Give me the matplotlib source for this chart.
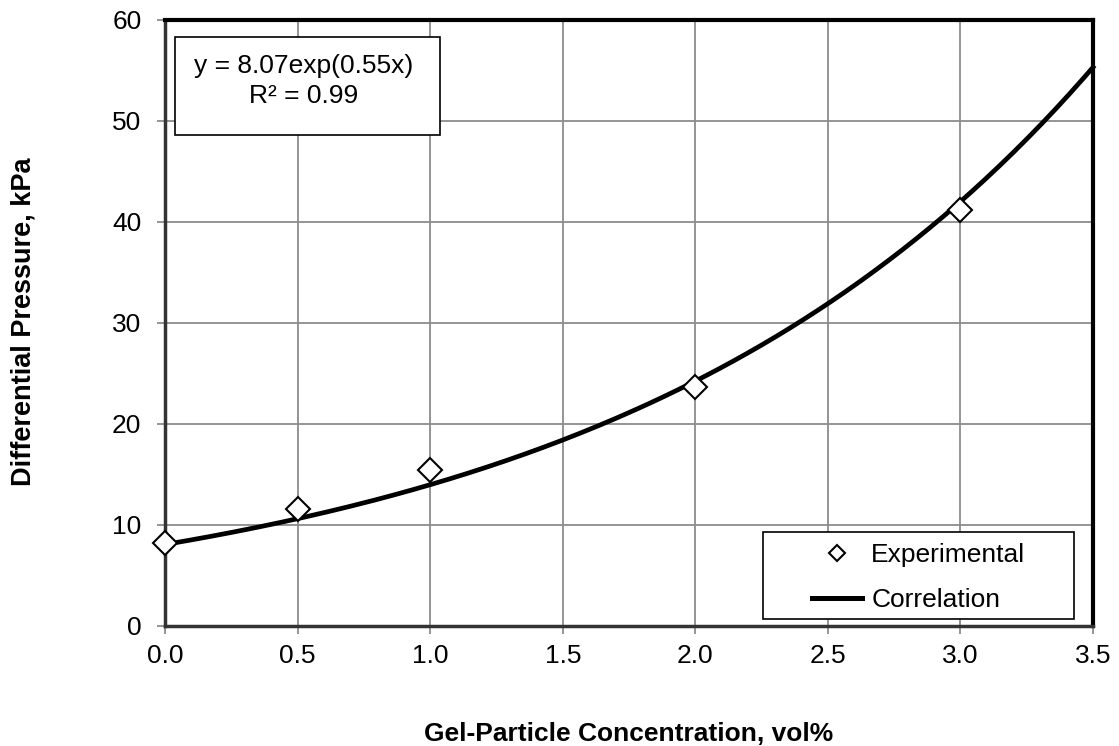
import numpy as np
import matplotlib.pyplot as plt
from matplotlib.patches import Rectangle

plt.rcParams['font.family'] = ['Liberation Sans', 'DejaVu Sans']

# Measured differential pressure vs. gel-particle concentration
conc = [0.0, 0.5, 1.0, 2.0, 3.0]
dp = [8.2, 11.6, 15.4, 23.7, 41.2]

# Exponential fit parameters
a_fit = 8.07
b_fit = 0.55
r2 = 0.99

x_ticks = [0.0, 0.5, 1.0, 1.5, 2.0, 2.5, 3.0, 3.5]
y_ticks = [0, 10, 20, 30, 40, 50, 60]

FS = 19

fig = plt.figure(figsize=(11.19, 7.46), dpi=100)
ax = fig.add_axes([0.1475, 0.1609, 0.8293, 0.8123])

xc = np.linspace(0, 3.5, 200)
ax.plot(xc, a_fit * np.exp(b_fit * xc), color='black', lw=3.4,
        label='Correlation', zorder=3, clip_on=False)
ax.plot(conc, dp, linestyle='none', marker='D', ms=12, mfc='white',
        mec='black', mew=1.5, label='Experimental', zorder=4, clip_on=False)

ax.set_xlim(0, 3.5)
ax.set_ylim(0, 60)
ax.set_xticks(x_ticks)
ax.set_xticklabels(['%.1f' % v for v in x_ticks])
ax.set_yticks(y_ticks)
ax.grid(True, color='#8c8c8c', lw=1.3)
ax.set_axisbelow(True)
ax.tick_params(labelsize=FS, length=6, color='#8c8c8c', width=1.3)
ax.tick_params(axis='y', pad=11)
ax.tick_params(axis='x', pad=7)

for side in ['top', 'right']:
    ax.spines[side].set_linewidth(3)
    ax.spines[side].set_color('black')
for side in ['left', 'bottom']:
    ax.spines[side].set_linewidth(2.5)
    ax.spines[side].set_color('#333333')

ax.set_xlabel('Gel-Particle Concentration, vol%', fontsize=FS, fontweight='bold')
ax.set_ylabel('Differential Pressure, kPa', fontsize=19.5, fontweight='bold')
ax.xaxis.set_label_coords(0.5, -0.158)
ax.yaxis.set_label_coords(-0.139, 0.502)

# Fit equation box
ax.add_patch(Rectangle((0.0108, 0.810), 0.2855, 0.162, transform=ax.transAxes,
                       fc='white', ec='black', lw=1.2, zorder=5))
ax.text(0.1498, 0.9125, 'y = %.2fexp(%.2fx)' % (a_fit, b_fit),
        transform=ax.transAxes, ha='center', va='baseline', fontsize=FS,
        zorder=6)
ax.text(0.1498, 0.863, 'R² = %.2f' % r2,
        transform=ax.transAxes, ha='center', va='baseline', fontsize=FS,
        zorder=6)

# Legend box
ax.add_patch(Rectangle((0.6444, 0.0115), 0.3351, 0.1436, transform=ax.transAxes,
                       fc='white', ec='black', lw=1.2, zorder=5))
handles, labels = ax.get_legend_handles_labels()
leg = ax.legend(handles[::-1], labels[::-1], loc='center left',
                bbox_to_anchor=(0.697, 0.080), fontsize=FS, frameon=False,
                markerscale=0.72, handlelength=1.9, handletextpad=0.35,
                borderpad=0, borderaxespad=0, labelspacing=0.78)
leg.set_zorder(6)
leg.get_lines()[1].set_linewidth(3.6)

fig.savefig('out.png', dpi=100)
